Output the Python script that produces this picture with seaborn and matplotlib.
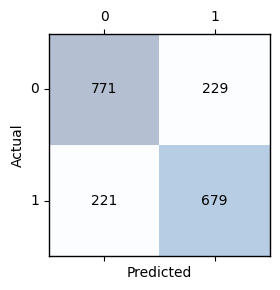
import matplotlib
matplotlib.use("Agg")
import matplotlib.pyplot as plt
import seaborn as sns
import numpy as np
import pandas as pd

classes = ["0", "1"]
row0 = [771, 229]
row1 = [221, 679]

cm = pd.DataFrame([row0, row1], index=classes, columns=classes)

fig = plt.figure(figsize=(2.8, 2.9), dpi=100)
ax = fig.add_axes([0.175, 0.117, 0.789, 0.766])
sns.heatmap(cm, ax=ax, cmap="Blues", alpha=0.3, annot=True, fmt="d",
            cbar=False, annot_kws={"color": "black", "fontsize": 10},
            square=False, linewidths=0)
for s in ax.spines.values():
    s.set_visible(True)
    s.set_color("black")
    s.set_linewidth(1.0)
ax.tick_params(top=True, labeltop=True, bottom=True, labelbottom=False,
               left=True, labelleft=True, length=3.5, width=0.8, labelsize=10)
ax.set_yticklabels(classes, rotation=0, va="center")
ax.set_xticklabels(classes, rotation=0)
ax.set_xlabel("Predicted", fontsize=10)
ax.set_ylabel("Actual", fontsize=10)
fig.savefig("out.png", dpi=100)
